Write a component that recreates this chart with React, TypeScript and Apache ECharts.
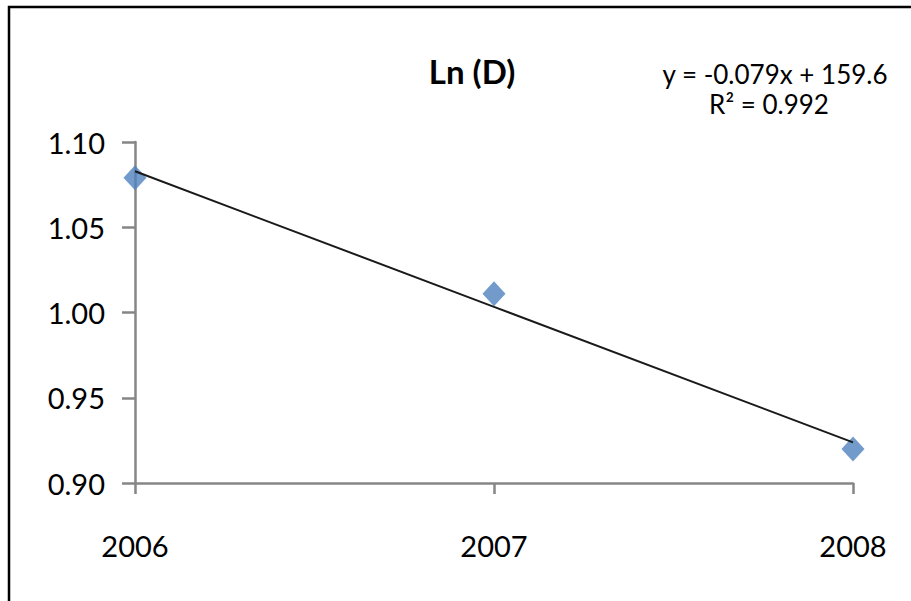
import React, { useEffect, useRef } from "react";
import * as echarts from "echarts";

// Years on the horizontal axis and the measured Ln(D) values
const years = ["2006", "2007", "2008"];
const lnD = [1.079, 1.011, 0.92];

// Value-axis range and step
const yMin = 0.9;
const yMax = 1.1;
const yStep = 0.05;

const titleText = "Ln (D)";
const equationLines = ["y = -0.079x + 159.6", "R\u00B2 = 0.992"];

// Least-squares linear fit over the category index
function linearFit(values: number[]) {
  const n = values.length;
  const xs = values.map((_, i) => i);
  const mx = xs.reduce((a, b) => a + b, 0) / n;
  const my = values.reduce((a, b) => a + b, 0) / n;
  let num = 0;
  let den = 0;
  for (let i = 0; i < n; i++) {
    num += (xs[i] - mx) * (values[i] - my);
    den += (xs[i] - mx) * (xs[i] - mx);
  }
  const slope = num / den;
  const intercept = my - slope * mx;
  return xs.map((x) => intercept + slope * x);
}

const FONT = "Lato";

export default function App() {
  const ref = useRef<HTMLDivElement>(null);

  useEffect(() => {
    if (!ref.current) return;
    const chart = echarts.init(ref.current, undefined, { renderer: "svg" });
    const trend = linearFit(lnD);

    chart.setOption({
      animation: false,
      backgroundColor: "#ffffff",
      textStyle: { fontFamily: FONT },
      title: {
        text: titleText,
        left: 467,
        top: 49,
        textAlign: "center",
        textStyle: {
          fontFamily: FONT,
          fontSize: 33,
          fontWeight: "bold",
          color: "#000000",
        },
      },
      graphic: [
        {
          type: "rect",
          shape: { x: 9, y: 7, width: 960, height: 660 },
          style: { fill: "none", stroke: "#000000", lineWidth: 2.5 },
          silent: true,
        },
        {
          type: "text",
          x: 775,
          y: 74,
          style: {
            text: equationLines[0],
            fontFamily: FONT,
            fontSize: 26,
            fill: "#000000",
            textAlign: "center",
            textVerticalAlign: "middle",
          },
        },
        {
          type: "text",
          x: 769,
          y: 104,
          style: {
            text: equationLines[1],
            fontFamily: FONT,
            fontSize: 26,
            fill: "#000000",
            textAlign: "center",
            textVerticalAlign: "middle",
          },
        },
      ],
      grid: { left: 135, right: 58, top: 142, bottom: 118, containLabel: false },
      xAxis: {
        type: "category",
        data: years,
        boundaryGap: false,
        axisLine: { lineStyle: { color: "#868686", width: 2.5 } },
        axisTick: {
          show: true,
          alignWithLabel: true,
          length: 11,
          lineStyle: { color: "#868686", width: 2.5 },
        },
        axisLabel: {
          color: "#000000",
          fontFamily: FONT,
          fontSize: 29,
          margin: 48,
        },
        splitLine: { show: false },
      },
      yAxis: {
        type: "value",
        min: yMin,
        max: yMax,
        interval: yStep,
        axisLine: { show: true, lineStyle: { color: "#868686", width: 2.5 } },
        axisTick: {
          show: true,
          length: 13,
          lineStyle: { color: "#868686", width: 2.5 },
        },
        axisLabel: {
          color: "#000000",
          fontFamily: FONT,
          fontSize: 29,
          margin: 30,
          formatter: (v: number) => v.toFixed(2),
        },
        splitLine: { show: false },
      },
      series: [
        {
          name: "Ln (D)",
          type: "scatter",
          data: lnD,
          symbol: "diamond",
          symbolSize: [23, 25],
          itemStyle: { color: "#4F81BD" },
          z: 2,
        },
        {
          name: "trend",
          type: "line",
          data: trend,
          symbol: "none",
          lineStyle: { color: "#1a1a1a", width: 2 },
          z: 3,
        },
      ],
    });

    return () => chart.dispose();
  }, []);

  return (
    <div
      ref={ref}
      style={{ position: "absolute", left: 0, top: 0, width: 911, height: 601 }}
    />
  );
}
